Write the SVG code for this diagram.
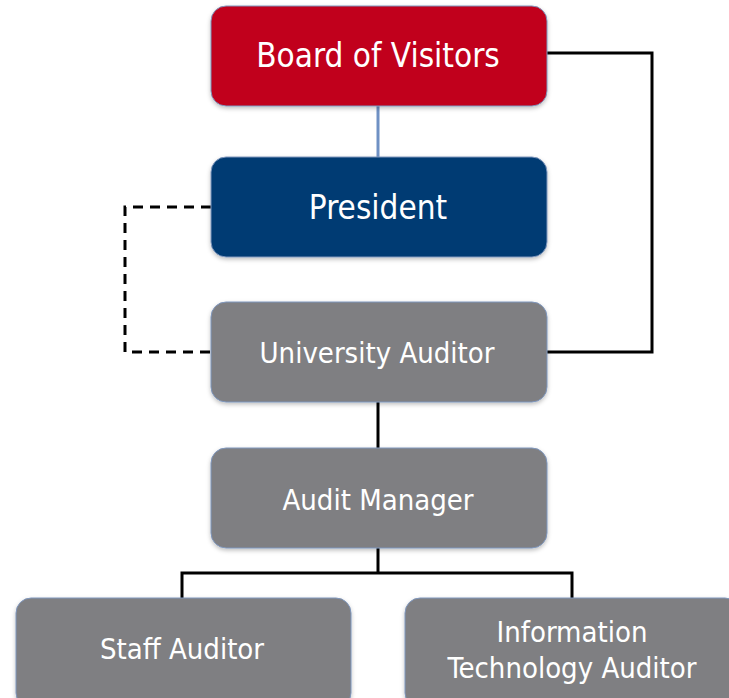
<svg xmlns="http://www.w3.org/2000/svg" width="729" height="698" viewBox="0 0 729 698">
<defs>
<style>
.box{stroke:#7f97bd;stroke-width:1}
.red{fill:#c1001c}
.navy{fill:#003b73}
.gray{fill:#7f7f82}
.t{font-family:"DejaVu Sans Condensed","Liberation Sans",sans-serif;fill:#ffffff;text-anchor:middle}
.ln{fill:none;stroke:#000000;stroke-width:3}
</style>
<filter id="sh" x="-5%" y="-5%" width="110%" height="120%">
<feDropShadow dx="0" dy="2" stdDeviation="2" flood-color="#000" flood-opacity="0.25"/>
</filter>
</defs>
<rect width="729" height="698" fill="#ffffff"/>
<g id="connectors">
<line x1="378" y1="106" x2="378" y2="157" stroke="#6f91c4" stroke-width="3"/>
<polyline class="ln" points="547,53 652,53 652,352 547,352"/>
<polyline class="ln" points="211,207 125,207 125,352 211,352" stroke-dasharray="10,7"/>
<line class="ln" x1="378" y1="402" x2="378" y2="448"/>
<polyline class="ln" points="378,548 378,573"/>
<polyline class="ln" points="182,598 182,573 572,573 572,598"/>
</g>
<g id="board">
<rect class="box red" x="211" y="6" width="336" height="100" rx="15" filter="url(#sh)"/>
<text class="t" x="378" y="67" font-size="33">Board of Visitors</text>
</g>
<g id="president">
<rect class="box navy" x="211" y="157" width="336" height="100" rx="15" filter="url(#sh)"/>
<text class="t" x="378" y="219" font-size="33">President</text>
</g>
<g id="university-auditor">
<rect class="box gray" x="211" y="302" width="336" height="100" rx="15" filter="url(#sh)"/>
<text class="t" x="377" y="363" font-size="29">University Auditor</text>
</g>
<g id="audit-manager">
<rect class="box gray" x="211" y="448" width="336" height="100" rx="15" filter="url(#sh)"/>
<text class="t" x="378" y="510" font-size="29">Audit Manager</text>
</g>
<g id="staff-auditor">
<rect class="box gray" x="16" y="598" width="335" height="110" rx="15" filter="url(#sh)"/>
<text class="t" x="182" y="659" font-size="29">Staff Auditor</text>
</g>
<g id="it-auditor">
<rect class="box gray" x="405" y="598" width="335" height="110" rx="15" filter="url(#sh)"/>
<text class="t" x="572" y="642" font-size="29">Information</text>
<text class="t" x="572" y="678" font-size="29">Technology Auditor</text>
</g>
</svg>
